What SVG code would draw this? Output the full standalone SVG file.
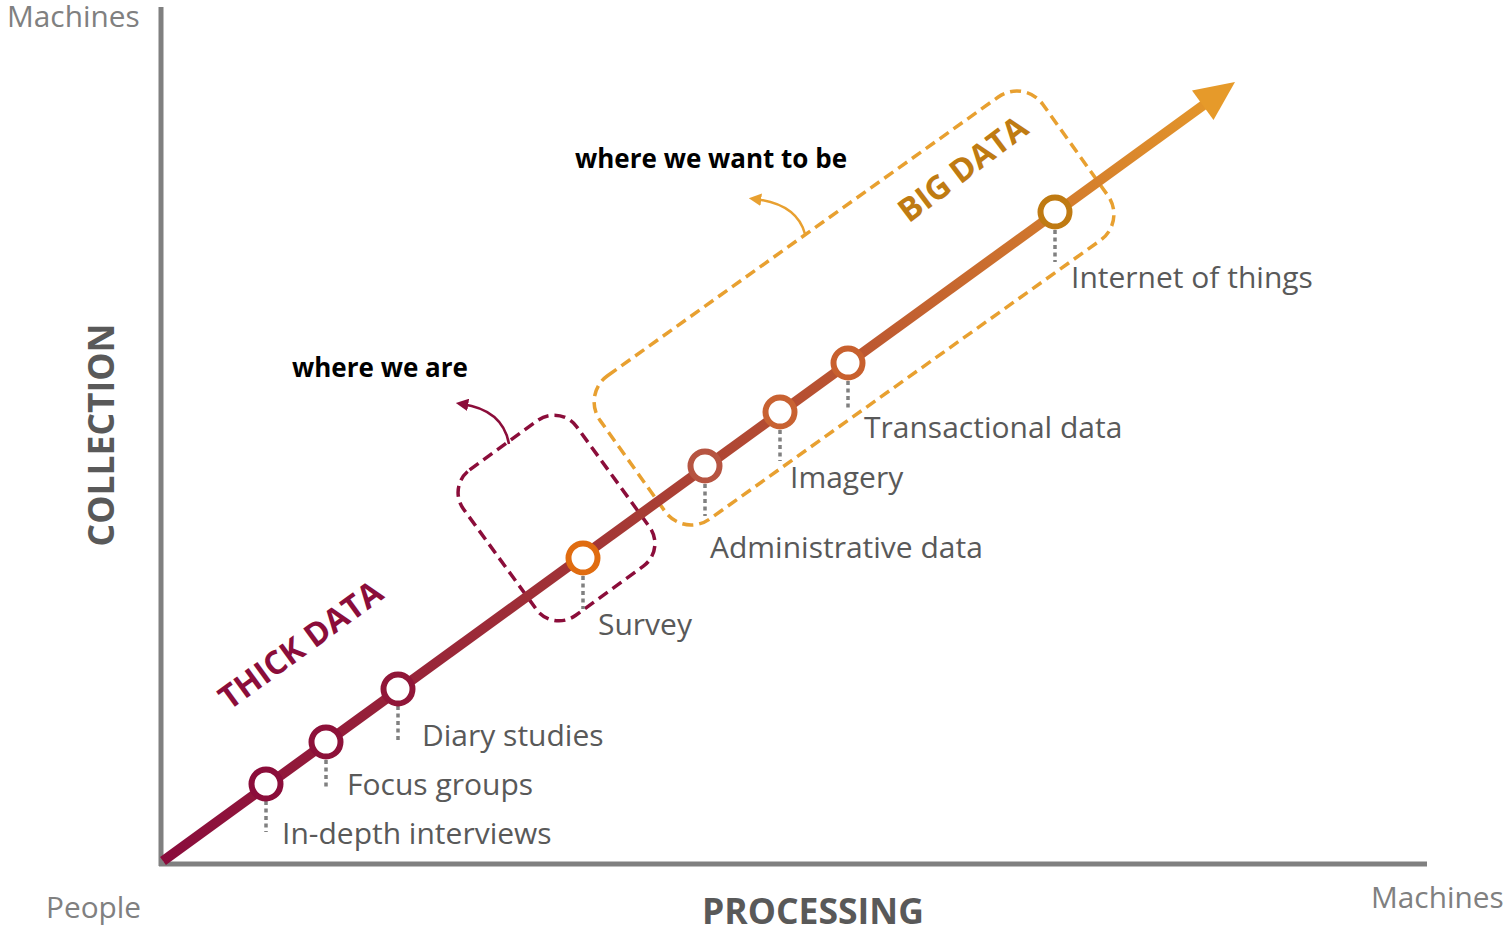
<svg xmlns="http://www.w3.org/2000/svg" width="1505" height="928" viewBox="0 0 1505 928">
<defs>
<style>
.axis{stroke:#808080;stroke-width:5;fill:none}
.axl{font-family:"Open Sans","Noto Sans",sans-serif;font-size:29.8px;fill:#808080}
.axt{font-family:"Open Sans","Noto Sans",sans-serif;font-size:35.5px;font-weight:bold;fill:#595959}
.lbl{font-family:"Open Sans","Noto Sans",sans-serif;font-size:30px;fill:#595959}
.note{font-family:"Open Sans","Noto Sans",sans-serif;font-size:26px;font-weight:bold;fill:#000}
.big{font-family:"Open Sans","Noto Sans",sans-serif;font-size:32.5px;font-weight:bold}
.dot{stroke:#808080;stroke-width:3.5;stroke-dasharray:4 3.5;fill:none}
.node{fill:#fff;stroke-width:6}
.box{fill:none;stroke-width:3.5;stroke-dasharray:11 6}
</style>
<linearGradient id="lg" gradientUnits="userSpaceOnUse" x1="161" y1="862" x2="1235" y2="82">
<stop offset="0" stop-color="#8A0C3C"/>
<stop offset="0.4" stop-color="#A23536"/>
<stop offset="0.65" stop-color="#BC5731"/>
<stop offset="1" stop-color="#E69A2A"/>
</linearGradient>
<marker id="mc" viewBox="0 0 10 10" refX="5" refY="5" markerWidth="5" markerHeight="5" orient="auto" markerUnits="strokeWidth"><path d="M0,0 L10,5 L0,10 z" fill="#8B0D3A"/></marker>
<marker id="mo" viewBox="0 0 10 10" refX="5" refY="5" markerWidth="5" markerHeight="5" orient="auto" markerUnits="strokeWidth"><path d="M0,0 L10,5 L0,10 z" fill="#E8A030"/></marker>
</defs>
<rect width="1505" height="928" fill="#fff"/>

<g id="axes">
<line class="axis" x1="161" y1="7" x2="161" y2="866"/>
<line class="axis" x1="159" y1="864" x2="1427" y2="864"/>
<text class="axl" x="7" y="27">Machines</text>
<text class="axl" x="46" y="918">People</text>
<text class="axl" x="1371" y="908">Machines</text>
<text class="axt" x="702" y="924">PROCESSING</text>
<text class="axt" transform="translate(114,435) rotate(-90)" text-anchor="middle">COLLECTION</text>
</g>

<g id="box-thick">
<rect class="box" stroke="#8B0D3A" x="-70" y="-90" width="140" height="180" rx="28" transform="translate(556.5,518) rotate(-36)"/>
<path d="M509,444 Q503,410 462,404" fill="none" stroke="#8B0D3A" stroke-width="2.5" marker-end="url(#mc)"/>
<text class="note" x="292" y="377">where we are</text>
</g>

<g id="box-big">
<rect class="box" stroke="#E8A030" x="-272" y="-88" width="544" height="176" rx="32" transform="translate(854,308) rotate(-35.5)"/>
<path d="M805,234 Q797,204 755,199" fill="none" stroke="#E8A030" stroke-width="2.5" marker-end="url(#mo)"/>
<text class="note" x="575" y="168">where we want to be</text>
</g>

<g id="connectors">
<line x1="163" y1="861" x2="1205" y2="104" stroke="url(#lg)" stroke-width="10"/>
<polygon points="1235,82 1192,90.5 1213.5,120" fill="#E69A2A"/>
</g>

<text class="big" fill="#8B0D3A" transform="translate(300,644) rotate(-36)" text-anchor="middle" dominant-baseline="central">THICK DATA</text>
<text class="big" fill="#BF7B12" transform="translate(962,168) rotate(-37)" text-anchor="middle" dominant-baseline="central">BIG DATA</text>

<g id="n-indepth">
<line class="dot" x1="266" y1="801" x2="266" y2="832"/>
<circle class="node" cx="266" cy="784" r="14.5" stroke="#8B0D3A"/>
<text class="lbl" x="282" y="844">In-depth interviews</text>
</g>
<g id="n-focus">
<line class="dot" x1="326" y1="760" x2="326" y2="788"/>
<circle class="node" cx="326" cy="742" r="14.5" stroke="#8D1139"/>
<text class="lbl" x="347" y="795">Focus groups</text>
</g>
<g id="n-diary">
<line class="dot" x1="398" y1="706" x2="398" y2="742"/>
<circle class="node" cx="398" cy="689" r="14.5" stroke="#901638"/>
<text class="lbl" x="422" y="746">Diary studies</text>
</g>
<g id="n-survey">
<line class="dot" x1="583" y1="576" x2="583" y2="609"/>
<circle class="node" cx="583" cy="558" r="14.5" stroke="#E06C10"/>
<text class="lbl" x="598" y="635">Survey</text>
</g>
<g id="n-admin">
<line class="dot" x1="705" y1="484" x2="705" y2="516"/>
<circle class="node" cx="705" cy="466" r="14.5" stroke="#B65441"/>
<text class="lbl" x="710" y="558">Administrative data</text>
</g>
<g id="n-imagery">
<line class="dot" x1="780" y1="430" x2="780" y2="461"/>
<circle class="node" cx="780" cy="412" r="14.5" stroke="#C86232"/>
<text class="lbl" x="790" y="488">Imagery</text>
</g>
<g id="n-trans">
<line class="dot" x1="848" y1="381" x2="848" y2="411"/>
<circle class="node" cx="848" cy="363" r="14.5" stroke="#C8602E"/>
<text class="lbl" x="864" y="438">Transactional data</text>
</g>
<g id="n-iot">
<line class="dot" x1="1055" y1="230" x2="1055" y2="262"/>
<circle class="node" cx="1055" cy="212" r="14.5" stroke="#BF7A12"/>
<text class="lbl" x="1071" y="288">Internet of things</text>
</g>
</svg>
